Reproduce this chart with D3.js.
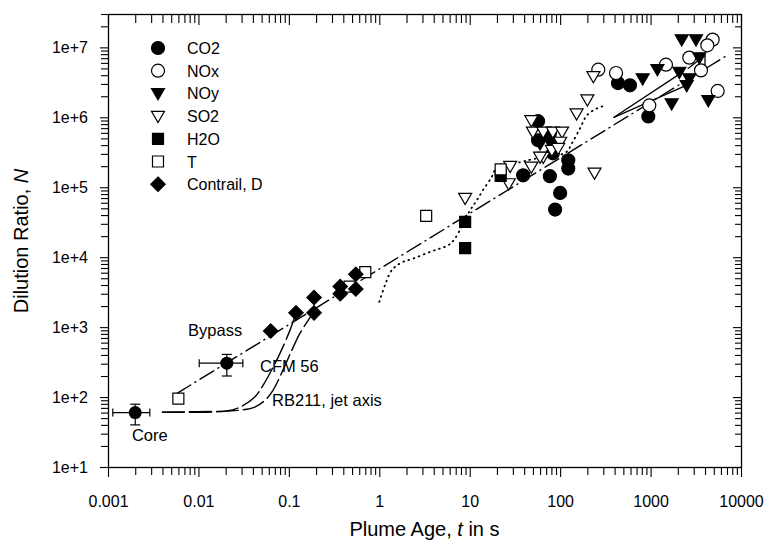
<!DOCTYPE html>
<html><head><meta charset="utf-8">
<script src="https://cdn.jsdelivr.net/npm/d3@7/dist/d3.min.js"></script>
<style>
body{margin:0;background:#fff;}
svg{display:block;font-family:"Liberation Sans",Arial,Helvetica,sans-serif;}
</style></head>
<body><svg id="chart" width="766" height="545"></svg>
<script>
// ---- axis ticks ----
const xMajor = [0.001, 0.01, 0.1, 1, 10, 100, 1000, 10000];
const xTickLabels = ["0.001", "0.01", "0.1", "1", "10", "100", "1000", "10000"];
const yMajor = [1e1, 1e2, 1e3, 1e4, 1e5, 1e6, 1e7];
const yTickLabels = ["1e+1", "1e+2", "1e+3", "1e+4", "1e+5", "1e+6", "1e+7"];

// ---- measured dilution ratios [plume age s, N] ----
const co2 = [[57, 880000], [77, 590000], [57, 470000], [83, 306000], [123, 243000], [123, 185000],
  [39, 148000], [77, 144000], [100, 83000], [88, 48000], [436, 3090000], [592, 2870000], [944, 1030000]];
// CO2 near-field points with uncertainty ranges: [t, N, tLow, tHigh, nLow, nHigh]
const co2Err = [[0.002, 60, 0.00113, 0.0029, 40, 79], [0.0206, 305, 0.0102, 0.031, 200, 407]];
const nox = [[264, 4800000], [415, 4300000], [1480, 5660000], [968, 1480000], [2680, 7130000],
  [4860, 12900000], [4240, 10700000], [3610, 4690000], [5520, 2380000]];
const noy = [[2210, 12900000], [3180, 12900000], [3460, 7130000], [1190, 4850000], [818, 3570000],
  [2080, 4440000], [2680, 3570000], [2510, 2870000], [1710, 1570000], [4350, 1750000],
  [77, 443000], [60, 420000], [70, 560000], [85, 380000]];
const so2 = [[8.9, 70000], [27, 113000], [28, 200000], [48, 195000], [65, 270000], [240, 160000],
  [48, 900000], [50, 617000], [65, 617000], [83, 617000], [105, 617000], [100, 443000],
  [81, 338000], [60, 271000], [95, 361000], [152, 1130000], [200, 1790000], [233, 3850000]];
const h2o = [[22, 145000], [8.9, 32000], [8.9, 13500]];
const temp = [[0.006, 95], [0.47, 3800], [0.7, 6100], [3.3, 39000], [22, 180000]];
const contrail = [[0.063, 880], [0.12, 1600], [0.19, 1600], [0.19, 2650], [0.37, 3800],
  [0.37, 3000], [0.55, 3500], [0.55, 5700]];

// ---- model / fit curves ----
const bypassFit = [[0.0058, 113], [6800, 7500000]];
const cfm56 = [[0.004, 61], [0.02, 63], [0.029, 72], [0.042, 100], [0.052, 148], [0.067, 268],
  [0.08, 425], [0.103, 906], [0.12, 1590]];
const rb211 = [[0.004, 61], [0.02, 63], [0.029, 65], [0.042, 72], [0.055, 91], [0.067, 126],
  [0.086, 243], [0.108, 469], [0.133, 820], [0.185, 1590]];
const plumeModel = [[1.0, 2300], [1.31, 5900], [1.49, 7260], [1.83, 8570], [2.38, 9570], [3.64, 11900],
  [4.69, 13300], [5.8, 14800], [6.87, 18500], [10.1, 46900], [12.0, 65200], [14.0, 90600],
  [17.5, 140000], [19.1, 175000], [36, 228000], [49, 251000], [116, 316000], [135, 425000],
  [166, 697000], [198, 1068000], [256, 1344000], [298, 1436000]];
const trendA = [[394, 1000000], [2300, 4500000]];
const trendB = [[394, 1000000], [2700, 3000000]];
const trendC = [[2600, 5000000], [4000, 7700000], [4000, 5200000]];

// ---- annotations (left edge / baseline in data units) ----
const notes = [
  {text: "Bypass", t: 0.00768, n: 743},
  {text: "CFM 56", t: 0.048, n: 228},
  {text: "RB211, jet axis", t: 0.0652, n: 74.4},
  {text: "Core", t: 0.00184, n: 23.5}
];
const legendNames = ["CO2", "NOx", "NOy", "SO2", "H2O", "T", "Contrail, D"];

const svg = d3.select("#chart");
const L = 108, R = 741, T = 14, B = 467;
const x = d3.scaleLog().domain([0.001, 10000]).range([L, R]);
const y = d3.scaleLog().domain([10, 3e7]).range([B, T]);

const xMinor = x.ticks().filter(v => !xMajor.some(m => Math.abs(m - v) / m < 1e-9));
const yMinor = y.ticks().filter(v => !yMajor.some(m => Math.abs(m - v) / m < 1e-9));

function styleAxis(g) {
  g.select(".domain").remove();
  g.selectAll("line").attr("stroke", "#000").attr("stroke-width", 1.1);
  g.selectAll("text").attr("fill", "#000");
}

// bottom axis (ticks outside)
svg.append("g").attr("transform", `translate(0,${B})`)
  .call(d3.axisBottom(x).tickValues(xMinor).tickSize(8).tickFormat(""))
  .call(styleAxis);
const bx = svg.append("g").attr("transform", `translate(0,${B})`)
  .call(d3.axisBottom(x).tickValues(xMajor).tickSize(10).tickPadding(19)
    .tickFormat((d, i) => xTickLabels[i]))
  .call(styleAxis);
bx.selectAll("text").attr("font-size", 16).attr("font-family", "Liberation Sans, Arial, sans-serif");

// top axis (ticks inside)
svg.append("g").attr("transform", `translate(0,${T})`)
  .call(d3.axisTop(x).tickValues(xMinor).tickSize(-9).tickFormat(""))
  .call(styleAxis);
svg.append("g").attr("transform", `translate(0,${T})`)
  .call(d3.axisTop(x).tickValues(xMajor).tickSize(-11).tickFormat(""))
  .call(styleAxis);

// left axis (ticks outside)
svg.append("g").attr("transform", `translate(${L},0)`)
  .call(d3.axisLeft(y).tickValues(yMinor).tickSize(7).tickFormat(""))
  .call(styleAxis);
const ly = svg.append("g").attr("transform", `translate(${L},0)`)
  .call(d3.axisLeft(y).tickValues(yMajor).tickSize(8).tickPadding(12)
    .tickFormat((d, i) => yTickLabels[i]))
  .call(styleAxis);
ly.selectAll("text").attr("font-size", 16).attr("font-family", "Liberation Sans, Arial, sans-serif");

// right axis (ticks inside)
svg.append("g").attr("transform", `translate(${R},0)`)
  .call(d3.axisRight(y).tickValues(yMinor).tickSize(-6).tickFormat(""))
  .call(styleAxis);
svg.append("g").attr("transform", `translate(${R},0)`)
  .call(d3.axisRight(y).tickValues(yMajor).tickSize(-8).tickFormat(""))
  .call(styleAxis);

// frame
svg.append("rect").attr("x", L + 0.5).attr("y", T + 0.5)
  .attr("width", R - L).attr("height", B - T)
  .attr("fill", "none").attr("stroke", "#000").attr("stroke-width", 1.3);

// axis titles
const xt = svg.append("text").attr("x", (L + R) / 2).attr("y", 536)
  .attr("text-anchor", "middle").attr("font-size", 20);
xt.append("tspan").text("Plume Age, ");
xt.append("tspan").attr("font-style", "italic").text("t");
xt.append("tspan").text(" in s");

const yt = svg.append("text").attr("transform", "translate(28,241) rotate(-90)")
  .attr("text-anchor", "middle").attr("font-size", 20);
yt.append("tspan").text("Dilution Ratio, ");
yt.append("tspan").attr("font-style", "italic").text("N");

// curves
const line = d3.line().x(d => x(d[0])).y(d => y(d[1]));
const smooth = d3.line().x(d => x(d[0])).y(d => y(d[1])).curve(d3.curveCatmullRom.alpha(0.5));
const plot = svg.append("g");
function drawCurve(data, gen, dash, w) {
  plot.append("path").attr("d", gen(data)).attr("fill", "none")
    .attr("stroke", "#000").attr("stroke-width", w || 1.4)
    .attr("stroke-dasharray", dash).attr("stroke-linecap", "round");
}
drawCurve(bypassFit, line, "16,5,1,5");
drawCurve(cfm56, smooth, "22,5");
drawCurve(rb211, smooth, "22,5");
drawCurve(plumeModel, smooth, "0.8,4.6", 1.8);
drawCurve(trendA, line, null, 1.3);
drawCurve(trendB, line, null, 1.3);
drawCurve(trendC, line, null, 1.3);

// marker shapes
const shapes = {
  circle: d3.symbol().type(d3.symbolCircle).size(Math.PI * 6.5 * 6.5)(),
  square: "M-5.5,-5.5h11v11h-11Z",
  triDown: "M-6.5,-4.8L6.5,-4.8L0,6.4Z",
  diamond: "M0,-7.2L7.2,0L0,7.2L-7.2,0Z"
};
const series = [
  {data: co2, shape: "circle", fill: "#000"},
  {data: nox, shape: "circle", fill: "#fff"},
  {data: noy, shape: "triDown", fill: "#000"},
  {data: so2, shape: "triDown", fill: "#fff"},
  {data: h2o, shape: "square", fill: "#000"},
  {data: temp, shape: "square", fill: "#fff"},
  {data: contrail, shape: "diamond", fill: "#000"}
];

// error bars for the near-field CO2 points
const eb = plot.append("g").attr("stroke", "#000").attr("stroke-width", 1.2);
co2Err.forEach(d => {
  const cx = x(d[0]), cy = y(d[1]);
  eb.append("line").attr("x1", x(d[2])).attr("x2", x(d[3])).attr("y1", cy).attr("y2", cy);
  eb.append("line").attr("x1", x(d[2])).attr("x2", x(d[2])).attr("y1", cy - 4).attr("y2", cy + 4);
  eb.append("line").attr("x1", x(d[3])).attr("x2", x(d[3])).attr("y1", cy - 4).attr("y2", cy + 4);
  eb.append("line").attr("x1", cx).attr("x2", cx).attr("y1", y(d[4])).attr("y2", y(d[5]));
  eb.append("line").attr("x1", cx - 5).attr("x2", cx + 5).attr("y1", y(d[4])).attr("y2", y(d[4]));
  eb.append("line").attr("x1", cx - 5).attr("x2", cx + 5).attr("y1", y(d[5])).attr("y2", y(d[5]));
});
plot.append("g").selectAll("path").data(co2Err).join("path")
  .attr("d", shapes.circle).attr("transform", d => `translate(${x(d[0])},${y(d[1])})`)
  .attr("fill", "#000");

series.forEach(s => {
  plot.append("g").selectAll("path").data(s.data).join("path")
    .attr("d", shapes[s.shape])
    .attr("transform", d => `translate(${x(d[0])},${y(d[1])})`)
    .attr("fill", s.fill).attr("stroke", "#000").attr("stroke-width", 1.2);
});

// annotations
svg.append("g").selectAll("text").data(notes).join("text")
  .attr("x", d => x(d.t)).attr("y", d => y(d.n))
  .attr("font-size", 16.5).text(d => d.text);

// legend
const lg = svg.append("g").attr("transform", "translate(158,48)");
series.forEach((s, i) => {
  const row = lg.append("g").attr("transform", `translate(0,${i * 22.7})`);
  row.append("path").attr("d", shapes[s.shape]).attr("fill", s.fill)
    .attr("stroke", "#000").attr("stroke-width", 1.2);
  row.append("text").attr("x", 29).attr("y", 6).attr("font-size", 16).text(legendNames[i]);
});
</script>
</body></html>
